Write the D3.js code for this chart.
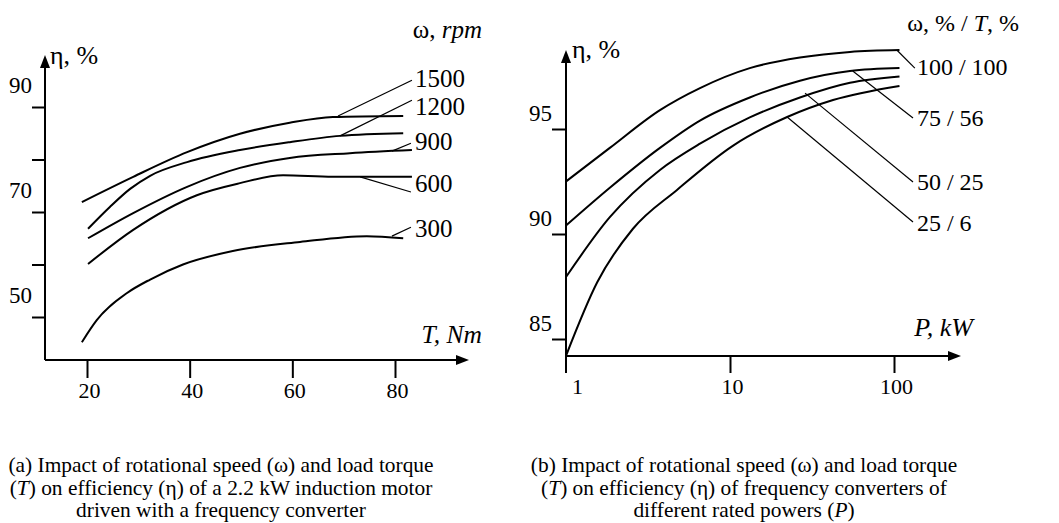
<!DOCTYPE html>
<html>
<head>
<meta charset="utf-8">
<script src="https://cdn.jsdelivr.net/npm/d3@7"></script>
<style>
  body { margin: 0; background: #fff; }
  .axis line { stroke: #000; stroke-width: 2; }
</style>
</head>
<body>
<script>
// ---- chart (a): efficiency vs torque, induction motor ----
var torque = [
  [19.0, 29.0, 39.5, 49.8, 59.5, 67.9, 81.6],
  [20.2, 24.5, 28.4, 32.3, 39.5, 49.8, 59.5, 69.3, 81.6],
  [20.2, 29.0, 39.5, 49.8, 59.5, 71.2, 83.3],
  [20.2, 29.0, 41.4, 49.8, 58.2, 67.9, 83.3],
  [19.0, 21.9, 27.8, 32.3, 38.7, 48.4, 61.5, 74.5, 81.6]
];
var effA = [
  [71.9, 76.7, 81.4, 84.9, 87.0, 88.1, 88.3],
  [66.8, 71.0, 74.4, 76.9, 79.5, 81.8, 83.3, 84.5, 85.0],
  [65.0, 69.8, 74.8, 78.4, 80.3, 81.2, 81.8],
  [60.1, 66.6, 73.2, 75.5, 77.0, 76.7, 76.7],
  [45.2, 49.4, 54.57, 57.14, 60.0, 62.57, 64.29, 65.4, 65.0]
];
var speedLabels = ["1500", "1200", "900", "600", "300"];
// leader line: point on curve -> point near label (data units)
var leadFromA = [[68.9, 88.3], [69.3, 84.5], [79.4, 81.6], [73.2, 76.7], [79.4, 65.4]];
var leadToA = [[83.3, 95.1], [83.3, 91.3], [83.1, 83.1], [83.1, 73.8], [83.1, 67.1]];
var labelPosA = [[84.5, 95.4], [84.5, 90.1], [84.5, 83.5], [84.5, 75.5], [84.5, 67.0]];
var xTicksA = [20, 40, 60, 80];
var yTicksA = [50, 60, 70, 80, 90];
var yLabelsA = [50, 70, 90];

// ---- chart (b): efficiency vs rated power, frequency converters ----
var power = [
  [1, 1.85, 3.74, 6.56, 13.2, 26.7, 53.9, 108],
  [1, 1.85, 3.74, 6.56, 13.2, 26.7, 53.9, 108],
  [1, 1.85, 3.74, 6.56, 13.2, 26.7, 53.9, 108],
  [1, 1.55, 2.56, 4.75, 10.4, 22.3, 42.5, 108]
];
var effB = [
  [92.5, 94.1, 95.9, 96.95, 97.9, 98.4, 98.67, 98.76],
  [90.4, 92.2, 94.1, 95.4, 96.5, 97.3, 97.76, 97.9],
  [87.95, 90.8, 93.05, 94.3, 95.55, 96.5, 97.2, 97.5],
  [84.2, 87.7, 90.25, 92.1, 94.2, 95.57, 96.38, 97.05]
];
var loadLabels = ["100 / 100", "75 / 56", "50 / 25", "25 / 6"];
var leadFromB = [[104, 98.76], [56, 97.76], [28.7, 96.71], [22.3, 95.57]];
var leadToB = [[134, 97.9], [130.6, 95.52], [130.6, 92.48], [130.6, 90.57]];
var labelPosB = [[138, 97.95], [138, 95.52], [138, 92.48], [138, 90.52]];
var xTicksB = [1, 10, 100];
var yTicksB = [85, 90, 95];

var captionA = ["(a) Impact of rotational speed (\u03c9) and load torque",
                "(T) on efficiency (\u03b7) of a 2.2 kW induction motor",
                "driven with a frequency converter"];
var captionB = ["(b) Impact of rotational speed (\u03c9) and load torque",
                "(T) on efficiency (\u03b7) of frequency converters of",
                "different rated powers (P)"];

var w = 1059;
var h = 523;
var serif = "'Liberation Serif', 'Times New Roman', Times, serif";

var svg = d3.select("body")
  .append("svg")
  .attr("width", w)
  .attr("height", h)
  .attr("font-family", serif);

var arrowUp = function(g, x, y) {
  g.append("path")
    .attr("d", "M" + x + "," + y + "l-5,13l10,0z")
    .attr("fill", "#000");
};
var arrowRight = function(g, x, y) {
  g.append("path")
    .attr("d", "M" + x + "," + y + "l-13,-5l0,10z")
    .attr("fill", "#000");
};

var caption = function(lines, cx) {
  var t = svg.append("text")
    .attr("text-anchor", "middle")
    .style("font-size", "21.4px");
  lines.forEach(function(line, i) {
    var ts = t.append("tspan").attr("x", cx).attr("y", 472 + i * 22.5);
    // italic T / P inside parentheses
    var m = line.match(/^(.*\()([TP])(\).*)$/);
    if (m) {
      ts.append("tspan").text(m[1]);
      ts.append("tspan").style("font-style", "italic").text(m[2]);
      ts.append("tspan").text(m[3]);
    } else {
      ts.text(line);
    }
  });
};

var line = d3.line().curve(d3.curveMonotoneX);

// ================= chart (a) =================
var xA = d3.scaleLinear().domain([20, 80]).range([87, 395]);
var yA = d3.scaleLinear().domain([50, 90]).range([317, 107]);
var gA = svg.append("g");

gA.append("line").attr("x1", 45).attr("y1", 360).attr("x2", 45).attr("y2", 62)
  .attr("stroke", "#000").attr("stroke-width", 2);
arrowUp(gA, 45, 55);
gA.append("line").attr("x1", 45).attr("y1", 360).attr("x2", 460).attr("y2", 360)
  .attr("stroke", "#000").attr("stroke-width", 2);
arrowRight(gA, 469, 360);

var yAxisA = d3.axisLeft(yA).tickValues(yTicksA).tickSize(13)
  .tickFormat(function(d) { return yLabelsA.indexOf(d) >= 0 ? d : ""; });
gA.append("g").attr("class", "axis")
  .attr("transform", "translate(45,0)")
  .call(yAxisA)
  .attr("font-family", serif).attr("font-size", 23)
  .call(function(g) { g.select(".domain").remove(); })
  .selectAll("text")
  .attr("x", -13).attr("dy", "-0.62em");

var xAxisA = d3.axisBottom(xA).tickValues(xTicksA).tickSize(18).tickPadding(4);
gA.append("g").attr("class", "axis")
  .attr("transform", "translate(0,360)")
  .call(xAxisA)
  .attr("font-family", serif).attr("font-size", 22)
  .call(function(g) { g.select(".domain").remove(); })
  .selectAll("text").attr("x", 2);

effA.forEach(function(ys, i) {
  var pts = ys.map(function(v, j) { return [xA(torque[i][j]), yA(v)]; });
  gA.append("path").attr("d", line(pts))
    .attr("fill", "none").attr("stroke", "#000").attr("stroke-width", 2);
  gA.append("line")
    .attr("x1", xA(leadFromA[i][0])).attr("y1", yA(leadFromA[i][1]))
    .attr("x2", xA(leadToA[i][0])).attr("y2", yA(leadToA[i][1]))
    .attr("stroke", "#000").attr("stroke-width", 1.2);
  gA.append("text")
    .attr("x", xA(labelPosA[i][0]) - 3).attr("y", yA(labelPosA[i][1]))
    .attr("dy", "0.35em")
    .style("font-size", "25px")
    .text(speedLabels[i]);
});

gA.append("text").attr("x", 50).attr("y", 64).style("font-size", "26px").text("\u03b7, %");
var wA = gA.append("text").attr("x", 482).attr("y", 38).attr("text-anchor", "end").style("font-size", "25px");
wA.append("tspan").text("\u03c9, ");
wA.append("tspan").style("font-style", "italic").text("rpm");
gA.append("text").attr("x", 482).attr("y", 343).attr("text-anchor", "end")
  .style("font-size", "25.5px").style("font-style", "italic")
  .text("T, Nm");

// ================= chart (b) =================
var xB = d3.scaleLog().domain([1, 100]).range([566, 894]);
var yB = d3.scaleLinear().domain([85, 95]).range([339, 129]);
var gB = svg.append("g");

gB.append("line").attr("x1", 566).attr("y1", 373).attr("x2", 566).attr("y2", 57)
  .attr("stroke", "#000").attr("stroke-width", 2);
arrowUp(gB, 566, 50);
gB.append("line").attr("x1", 566).attr("y1", 356).attr("x2", 952).attr("y2", 356)
  .attr("stroke", "#000").attr("stroke-width", 2);
arrowRight(gB, 961, 356);

var yAxisB = d3.axisLeft(yB).tickValues(yTicksB).tickSize(14).tickFormat(d3.format("d"));
gB.append("g").attr("class", "axis")
  .attr("transform", "translate(566,0)")
  .call(yAxisB)
  .attr("font-family", serif).attr("font-size", 23)
  .call(function(g) { g.select(".domain").remove(); })
  .selectAll("text")
  .attr("x", -14).attr("dy", "-0.35em");

var xAxisB = d3.axisBottom(xB).tickValues(xTicksB).tickSize(17).tickPadding(5)
  .tickFormat(d3.format("d"));
var gxB = gB.append("g").attr("class", "axis")
  .attr("transform", "translate(0,356)")
  .call(xAxisB)
  .attr("font-family", serif).attr("font-size", 22)
  .call(function(g) { g.select(".domain").remove(); });
gxB.selectAll("text").attr("x", function(d) { return d === 1 ? 11 : 2; });
gxB.selectAll("line").filter(function(d) { return d === 1; }).remove();

effB.forEach(function(ys, i) {
  var pts = ys.map(function(v, j) { return [xB(power[i][j]), yB(v)]; });
  gB.append("path").attr("d", line(pts))
    .attr("fill", "none").attr("stroke", "#000").attr("stroke-width", 2);
  gB.append("line")
    .attr("x1", xB(leadFromB[i][0])).attr("y1", yB(leadFromB[i][1]))
    .attr("x2", xB(leadToB[i][0])).attr("y2", yB(leadToB[i][1]))
    .attr("stroke", "#000").attr("stroke-width", 1.2);
  gB.append("text")
    .attr("x", xB(labelPosB[i][0])).attr("y", yB(labelPosB[i][1]))
    .attr("dy", "0.35em")
    .style("font-size", "24px")
    .text(loadLabels[i]);
});

gB.append("text").attr("x", 572).attr("y", 58).style("font-size", "26px").text("\u03b7, %");
var wB = gB.append("text").attr("x", 1019).attr("y", 31).attr("text-anchor", "end").style("font-size", "24px");
wB.append("tspan").text("\u03c9, % / ");
wB.append("tspan").style("font-style", "italic").text("T");
wB.append("tspan").text(", %");
gB.append("text").attr("x", 973).attr("y", 336).attr("text-anchor", "end")
  .style("font-size", "26px").style("font-style", "italic")
  .text("P, kW");

caption(captionA, 221);
caption(captionB, 744);
</script>
</body>
</html>
